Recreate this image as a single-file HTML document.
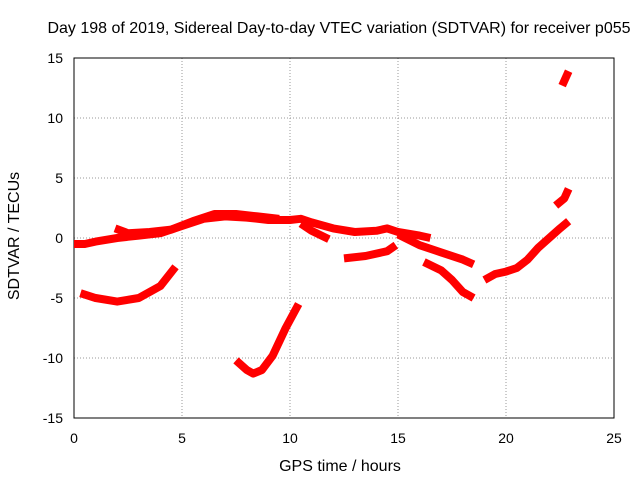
<!DOCTYPE html>
<html><head><meta charset="utf-8"><style>
body{margin:0;background:#fff;}
svg text{font-family:"Liberation Sans",sans-serif;font-size:14px;fill:#000;}
svg text.big{font-size:16px;}
</style></head><body>
<svg width="640" height="480">
<rect width="640" height="480" fill="#fff"/>
<g id="grid"></g>
<rect x="74" y="58" width="540" height="360" fill="none" stroke="#000" stroke-width="1"/>
<g id="ticks"></g>
<g id="marks"></g>
<text class="big" x="339" y="33" text-anchor="middle">Day 198 of 2019, Sidereal Day-to-day VTEC variation (SDTVAR) for receiver p055</text>
<text class="big" x="340" y="471" text-anchor="middle">GPS time / hours</text>
<text class="big" transform="translate(19,236) rotate(-90)" text-anchor="middle">SDTVAR / TECUs</text>
</svg>
<script>
const xTicks=[0,5,10,15,20,25];
const yTicks=[-15,-10,-5,0,5,10,15];
const trackMain=[[0,-0.5],[0.5,-0.5],[1,-0.3],[2,0],[3,0.2],[4,0.4],[5,1],[6,1.6],[7,1.8],[8,1.7],[9,1.5],[10,1.5],[10.5,1.6],[11,1.3],[12,0.8],[13,0.5],[14,0.6],[14.5,0.8],[15,0.5],[16,0.2],[16.5,0]];
const trackA2=[[1.9,0.8],[2.5,0.4],[3.5,0.5],[4.5,0.7],[5.5,1.4],[6.5,2],[7.5,2],[8.5,1.8],[9.5,1.6]];
const trackB=[[15,0.3],[16,-0.6],[17,-1.2],[18,-1.8],[18.5,-2.2]];
const trackC=[[16.2,-2],[17,-2.7],[17.5,-3.5],[18,-4.5],[18.5,-5]];
const trackD=[[10.5,1.2],[11,0.6],[11.8,-0.1]];
const trackE=[[12.5,-1.7],[13.5,-1.5],[14.5,-1.1],[14.9,-0.6]];
const trackF=[[19,-3.5],[19.5,-3],[20,-2.8],[20.5,-2.5],[21,-1.8],[21.5,-0.8],[22,0],[22.5,0.8],[22.9,1.4]];
const trackG=[[22.3,2.7],[22.7,3.3],[22.9,4.1]];
const trackH=[[22.6,12.7],[22.9,13.9]];
const trackI=[[0.3,-4.6],[1,-5],[2,-5.3],[3,-5],[4,-4],[4.7,-2.4]];
const trackJ=[[7.5,-10.2],[8,-11],[8.3,-11.3],[8.7,-11],[9.2,-9.8],[9.8,-7.5],[10.4,-5.5]];
const tracks=[trackMain,trackA2,trackB,trackC,trackD,trackE,trackF,trackG,trackH,trackI,trackJ];
const NS='http://www.w3.org/2000/svg';
const X=v=>74+v*540/25, Y=v=>238-v*12;
const grid=document.getElementById('grid'),ticks=document.getElementById('ticks'),marks=document.getElementById('marks');
function mk(tag,at,p){const e=document.createElementNS(NS,tag);for(const k in at)e.setAttribute(k,at[k]);p.appendChild(e);return e;}
xTicks.forEach(t=>{
 if(t>0&&t<25){const g=mk('line',{x1:X(t),x2:X(t),y1:58,y2:418,stroke:'#999','stroke-dasharray':'1,2'},grid);
 
 }
 const s=mk('text',{x:X(t),y:443,'text-anchor':'middle'},ticks);s.textContent=t;
 
 
});
yTicks.forEach(t=>{
 if(t>-15&&t<15){const g=mk('line',{x1:74,x2:614,y1:Y(t),y2:Y(t),stroke:'#999','stroke-dasharray':'1,2'},grid);
 
 }
 const s=mk('text',{x:63,y:Y(t)+5,'text-anchor':'end'},ticks);s.textContent=t;
 
 
});
tracks.forEach(tr=>{
 const p=mk('polyline',{points:tr.map(d=>X(d[0])+','+Y(d[1])).join(' '),fill:'none',stroke:'#f00','stroke-width':8,'stroke-linejoin':'round','stroke-linecap':'butt'},marks);
 
 
});
</script>
</body></html>
